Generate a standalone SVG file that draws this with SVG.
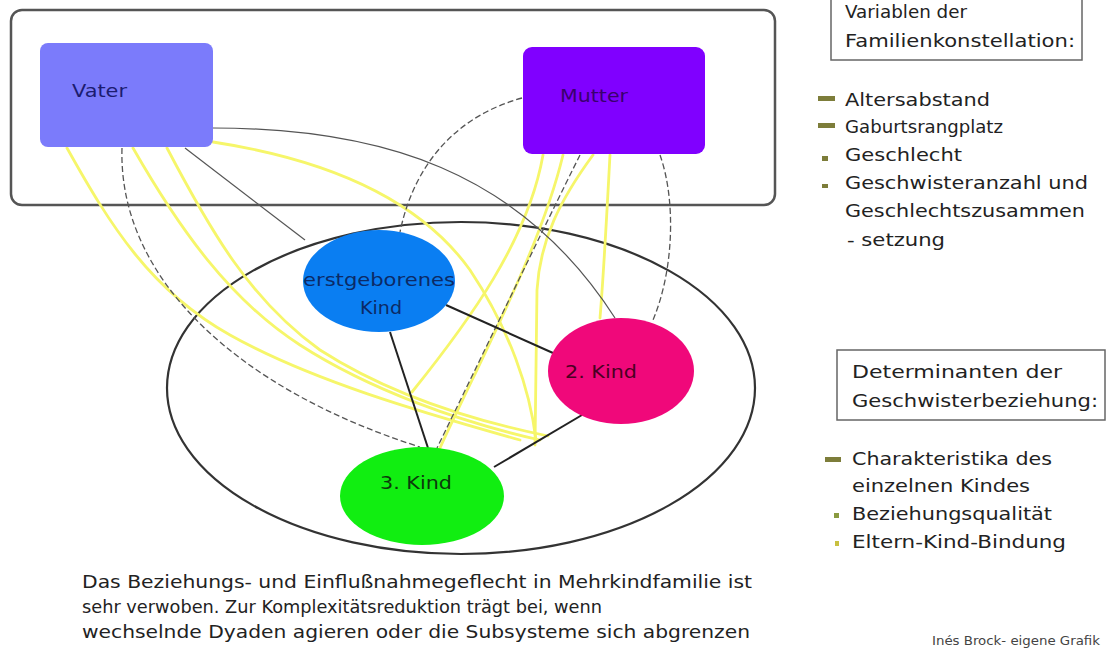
<svg xmlns="http://www.w3.org/2000/svg" width="1107" height="654" viewBox="0 0 1107 654">
<defs>
<style>
.t{font-family:"DejaVu Sans","Liberation Sans",sans-serif;}
.lg{font-size:18px;fill:#222;}
.nd{font-size:17px;}
.yl{fill:none;stroke:#f6f66a;stroke-width:2.8;stroke-linecap:round;}
.gl{fill:none;stroke:#555;stroke-width:1.2;}
.gd{fill:none;stroke:#555;stroke-width:1.3;stroke-dasharray:6,3;}
.bl{fill:none;stroke:#222;stroke-width:2;}
.box{fill:#fff;stroke:#666;stroke-width:1.5;}
.bul{fill:#7d7d3a;}
</style>
</defs>
<rect width="1107" height="654" fill="#fff"/>

<g id="eltern-subsystem">
<rect x="11" y="10" width="764" height="195" rx="11" fill="none" stroke="#555" stroke-width="2.5"/>
</g>
<g id="geschwister-subsystem">
<ellipse cx="461" cy="388" rx="294" ry="166" fill="none" stroke="#333" stroke-width="2.2"/>
</g>

<g id="connectors">
<path class="yl" d="M67,148 C110,225 150,290 230,335 C310,380 420,412 520,440"/>
<path class="yl" d="M133,148 C180,230 230,300 300,345 C370,390 460,422 540,440"/>
<path class="yl" d="M167,148 C210,230 250,300 320,350 C390,395 470,420 548,436"/>
<path class="yl" d="M213,142 C330,160 420,200 470,270 C510,330 530,390 536,440"/>
<path class="yl" d="M543,155 C528,240 470,320 412,392"/>
<path class="yl" d="M563,155 C540,250 480,360 440,448"/>
<path class="yl" d="M593,155 C560,200 540,240 537,290 L535,445"/>
<path class="yl" d="M610,155 C607,210 604,270 600,318"/>

<path class="gl" d="M185,148 L305,240"/>
<path class="gl" d="M213,128 C380,128 520,170 615,318"/>
<path class="gd" d="M122,148 C118,280 240,390 420,447"/>
<path class="gd" d="M522,98 C460,115 415,160 400,232"/>
<path class="gd" d="M660,155 C676,200 674,270 653,320"/>
<path class="gd" d="M580,155 C545,225 480,360 437,448"/>

<path class="bl" d="M446,305 L553,353"/>
<path class="bl" d="M390,332 L428,448"/>
<path class="bl" d="M582,415 L494,467"/>
</g>

<g id="vater">
<rect x="40" y="43" width="173" height="104" rx="8" fill="#7b7bfb"/>
<text class="t nd" x="72" y="97" fill="#1c1c70" textLength="55" lengthAdjust="spacingAndGlyphs">Vater</text>
</g>
<g id="mutter">
<rect x="523" y="47" width="182" height="107" rx="9" fill="#8000ff"/>
<text class="t nd" x="560" y="102" fill="#3a006e" textLength="68" lengthAdjust="spacingAndGlyphs">Mutter</text>
</g>
<g id="erstgeborenes-kind">
<ellipse cx="379" cy="281" rx="76" ry="51" fill="#0a7ef2"/>
<text class="t nd" x="379" y="286" text-anchor="middle" fill="#0c2a66" textLength="152" lengthAdjust="spacingAndGlyphs">erstgeborenes</text>
<text class="t nd" x="381" y="314" text-anchor="middle" fill="#0c2a66" textLength="42" lengthAdjust="spacingAndGlyphs">Kind</text>
</g>
<g id="kind-2">
<ellipse cx="621" cy="371" rx="73" ry="53" fill="#f0087a"/>
<text class="t nd" x="565" y="378" fill="#4a0022" textLength="72" lengthAdjust="spacingAndGlyphs">2. Kind</text>
</g>
<g id="kind-3">
<ellipse cx="422" cy="496" rx="82" ry="49" fill="#11ee11"/>
<text class="t nd" x="380" y="489" fill="#0c3a0c" textLength="72" lengthAdjust="spacingAndGlyphs">3. Kind</text>
</g>

<g id="legende-familienkonstellation">
<rect class="box" x="831" y="-6" width="251" height="66"/>
<text class="t lg" x="845" y="18" textLength="122" lengthAdjust="spacingAndGlyphs">Variablen der</text>
<text class="t lg" x="845" y="47" textLength="230" lengthAdjust="spacingAndGlyphs">Familienkonstellation:</text>
<rect class="bul" x="818" y="96" width="17" height="5"/>
<rect class="bul" x="818" y="123" width="17" height="5"/>
<rect class="bul" x="822" y="156" width="6" height="5"/>
<rect class="bul" x="822" y="184" width="6" height="4"/>
<text class="t lg" x="845" y="106" textLength="145" lengthAdjust="spacingAndGlyphs">Altersabstand</text>
<text class="t lg" x="845" y="133" textLength="158" lengthAdjust="spacingAndGlyphs">Gaburtsrangplatz</text>
<text class="t lg" x="845" y="161" textLength="117" lengthAdjust="spacingAndGlyphs">Geschlecht</text>
<text class="t lg" x="845" y="189" textLength="243" lengthAdjust="spacingAndGlyphs">Geschwisteranzahl und</text>
<text class="t lg" x="845" y="217" textLength="240" lengthAdjust="spacingAndGlyphs">Geschlechtszusammen</text>
<text class="t lg" x="847" y="246" textLength="98" lengthAdjust="spacingAndGlyphs">- setzung</text>
</g>

<g id="legende-determinanten">
<rect class="box" x="837" y="350" width="268" height="70"/>
<text class="t lg" x="852" y="378" textLength="210" lengthAdjust="spacingAndGlyphs">Determinanten der</text>
<text class="t lg" x="852" y="407" textLength="246" lengthAdjust="spacingAndGlyphs">Geschwisterbeziehung:</text>
<rect class="bul" x="825" y="457" width="16" height="5"/>
<rect x="834" y="513" width="5" height="5" fill="#8a9a40"/>
<rect x="835" y="541" width="4" height="5" fill="#c8c040"/>
<text class="t lg" x="852" y="465" textLength="200" lengthAdjust="spacingAndGlyphs">Charakteristika des</text>
<text class="t lg" x="852" y="492" textLength="178" lengthAdjust="spacingAndGlyphs">einzelnen Kindes</text>
<text class="t lg" x="852" y="520" textLength="200" lengthAdjust="spacingAndGlyphs">Beziehungsqualität</text>
<text class="t lg" x="852" y="548" textLength="214" lengthAdjust="spacingAndGlyphs">Eltern-Kind-Bindung</text>
</g>

<g id="beschreibung">
<text class="t lg" x="82" y="588" textLength="670" lengthAdjust="spacingAndGlyphs">Das Beziehungs- und Einflußnahmegeflecht in Mehrkindfamilie ist</text>
<text class="t lg" x="82" y="613" textLength="520" lengthAdjust="spacingAndGlyphs">sehr verwoben. Zur Komplexitätsreduktion trägt bei, wenn</text>
<text class="t lg" x="82" y="638" textLength="668" lengthAdjust="spacingAndGlyphs">wechselnde Dyaden agieren oder die Subsysteme sich abgrenzen</text>
</g>

<g id="quelle">
<text class="t" x="932" y="645" font-size="13" fill="#444" textLength="168" lengthAdjust="spacingAndGlyphs">Inés Brock- eigene Grafik</text>
</g>
</svg>
